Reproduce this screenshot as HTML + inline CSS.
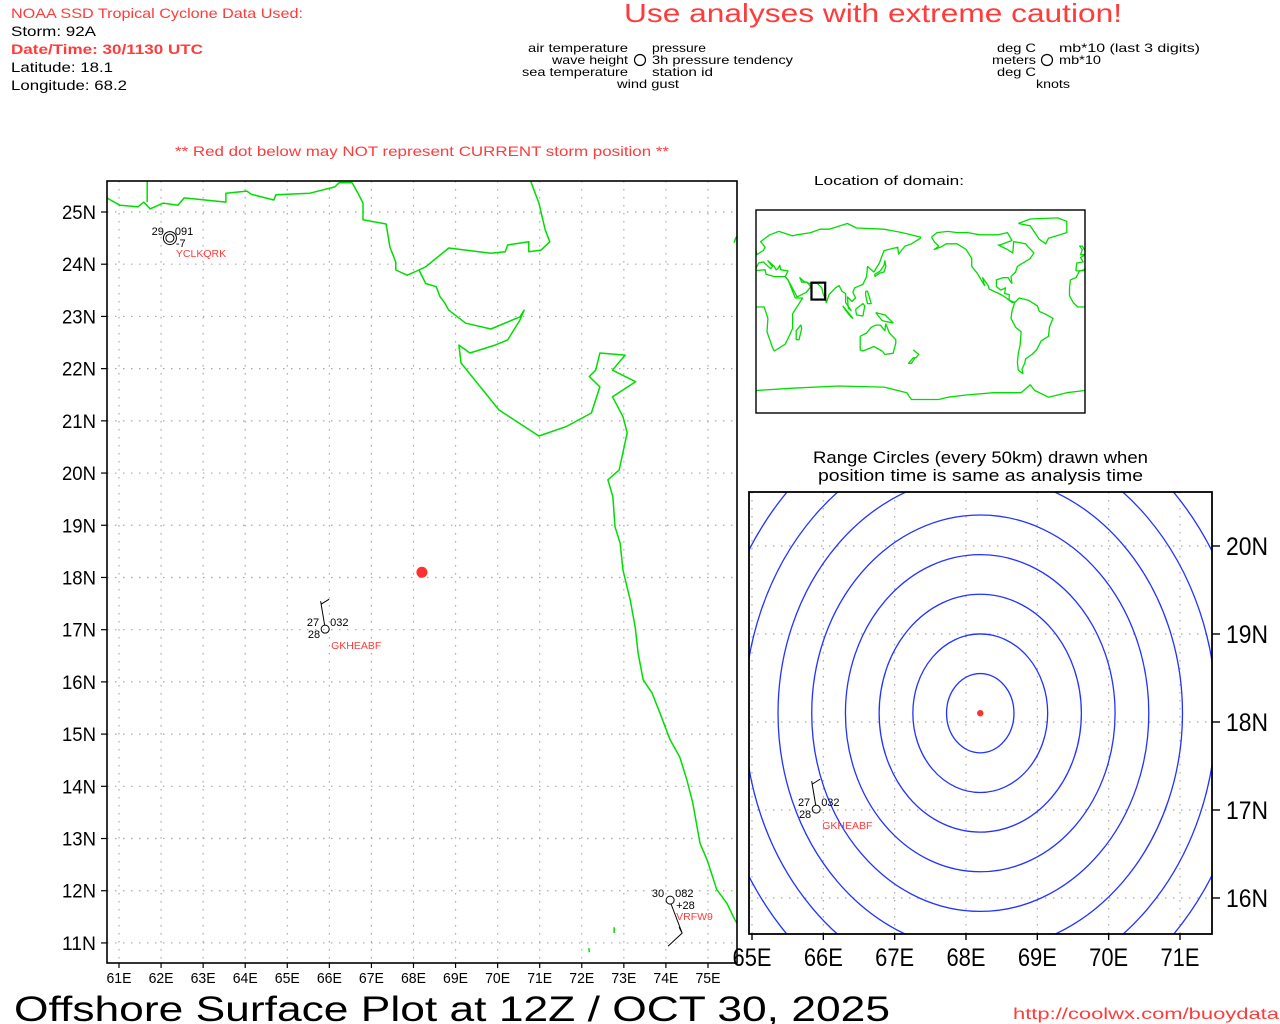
<!DOCTYPE html>
<html><head><meta charset="utf-8"><title>Offshore Surface Plot</title>
<style>
html,body{margin:0;padding:0;background:#fff;width:1280px;height:1024px;overflow:hidden;}
svg{display:block;font-family:"Liberation Sans",sans-serif;}
</style></head>
<body>
<svg id="chart" width="1280" height="1024" viewBox="0 0 1280 1024" xmlns="http://www.w3.org/2000/svg">
<rect x="0" y="0" width="1280" height="1024" fill="#fff"/>
<defs>
<clipPath id="clipMain"><rect x="107" y="181" width="630" height="782"/></clipPath>
<clipPath id="clipRange"><rect x="749" y="492" width="463" height="442"/></clipPath>
<clipPath id="clipInset"><rect x="756" y="210" width="329" height="203"/></clipPath>
</defs>
<g id="header" font-size="14">
<text x="11" y="18" fill="#ff3b3b" textLength="292" lengthAdjust="spacingAndGlyphs">NOAA SSD Tropical Cyclone Data Used:</text>
<text x="11" y="36" fill="#000" textLength="85" lengthAdjust="spacingAndGlyphs">Storm: 92A</text>
<text x="11" y="54" fill="#ff3b3b" font-weight="bold" textLength="192" lengthAdjust="spacingAndGlyphs">Date/Time: 30/1130 UTC</text>
<text x="11" y="72" fill="#000" textLength="102" lengthAdjust="spacingAndGlyphs">Latitude: 18.1</text>
<text x="11" y="90" fill="#000" textLength="116" lengthAdjust="spacingAndGlyphs">Longitude: 68.2</text>
<text x="624" y="22" fill="#ff3b3b" font-size="26" textLength="498" lengthAdjust="spacingAndGlyphs">Use analyses with extreme caution!</text>
<text x="175" y="156" fill="#ff3b3b" textLength="494" lengthAdjust="spacingAndGlyphs">** Red dot below may NOT represent CURRENT storm position **</text>
</g>
<g id="legend" font-size="12" fill="#000">
<text x="628" y="52" text-anchor="end" textLength="100" lengthAdjust="spacingAndGlyphs">air temperature</text>
<text x="628" y="64" text-anchor="end" textLength="76" lengthAdjust="spacingAndGlyphs">wave height</text>
<text x="628" y="76" text-anchor="end" textLength="106" lengthAdjust="spacingAndGlyphs">sea temperature</text>
<text x="617" y="88" textLength="62" lengthAdjust="spacingAndGlyphs">wind gust</text>
<circle cx="640" cy="60" r="5.5" fill="none" stroke="#000" stroke-width="1.2"/>
<text x="652" y="52" textLength="54" lengthAdjust="spacingAndGlyphs">pressure</text>
<text x="652" y="64" textLength="141" lengthAdjust="spacingAndGlyphs">3h pressure tendency</text>
<text x="652" y="76" textLength="61" lengthAdjust="spacingAndGlyphs">station id</text>
<text x="997" y="52" textLength="39" lengthAdjust="spacingAndGlyphs">deg C</text>
<text x="1059" y="52" textLength="141" lengthAdjust="spacingAndGlyphs">mb*10 (last 3 digits)</text>
<text x="992" y="64" textLength="44" lengthAdjust="spacingAndGlyphs">meters</text>
<circle cx="1047" cy="60" r="5.5" fill="none" stroke="#000" stroke-width="1.2"/>
<text x="1059" y="64" textLength="42" lengthAdjust="spacingAndGlyphs">mb*10</text>
<text x="997" y="76" textLength="39" lengthAdjust="spacingAndGlyphs">deg C</text>
<text x="1036" y="88" textLength="34" lengthAdjust="spacingAndGlyphs">knots</text>
</g>
<g id="mainMap"></g>
<g id="inset"></g>
<g id="rangePanel"></g>
<text x="814" y="185" font-size="13" textLength="150" lengthAdjust="spacingAndGlyphs">Location of domain:</text>
<text x="813" y="463" font-size="17" textLength="335" lengthAdjust="spacingAndGlyphs">Range Circles (every 50km) drawn when</text>
<text x="818" y="481" font-size="17" textLength="325" lengthAdjust="spacingAndGlyphs">position time is same as analysis time</text>
<text x="14" y="1021" font-size="35" fill="#000" textLength="876" lengthAdjust="spacingAndGlyphs">Offshore Surface Plot at 12Z / OCT 30, 2025</text>
<text x="1013" y="1019" font-size="16" fill="#ff3b3b" textLength="266" lengthAdjust="spacingAndGlyphs">http://coolwx.com/buoydata</text>
</svg>
<script>
// ---- data ----
const stormLon = 68.2;
const stormLat = 18.1;
const stationIds = ["YCLKQRK","GKHEABF","VRFW9"];
const stationLon = [62.21, 65.9, 74.1];
const stationLat = [24.5, 17.01, 11.82];
const stationAirTemp = ["29","27","30"];
const stationPressure = ["091","032","082"];
const stationTendency = ["-7","","+28"];
const stationSeaTemp = ["","28",""];
const mainLatTicks = [11,12,13,14,15,16,17,18,19,20,21,22,23,24,25];
const mainLonTicks = [61,62,63,64,65,66,67,68,69,70,71,72,73,74,75];
const rangeLatTicks = [16,17,18,19,20];
const rangeLonTicks = [65,66,67,68,69,70,71];
const rangeCircleKm = [50,100,150,200,250,300,350,400,450,500,550,600];
const coastMainLon = [60.71,61.02,61.45,61.59,61.74,62.05,62.40,62.55,63.54,63.54,64.04,64.14,64.68,64.73,65.54,66.13,66.23,66.54,66.68,66.80,66.80,67.35,67.44,67.58,67.58,67.85,68.13,68.29,68.54,68.63,68.74,68.84,69.24,69.84,70.53,70.63,70.53,70.24,69.94,69.34,69.08,69.13,70.03,70.98,71.63,72.23,72.43,72.18,72.33,72.43,73.03,72.73,73.28,72.73,72.98,73.08,72.89,72.62,72.74,72.79,72.91,72.98,73.15,73.27,73.34,73.46,73.67,73.86,74.10,74.33,74.50,74.64,74.81,74.98,75.21,75.45,75.64,75.88];
const coastMainLat = [25.27,25.13,25.10,25.19,25.06,25.17,25.13,25.27,25.19,25.36,25.40,25.34,25.23,25.33,25.36,25.48,25.56,25.56,25.36,25.17,24.85,24.77,24.33,24.04,23.89,23.79,23.89,23.63,23.57,23.38,23.26,23.12,22.87,22.76,22.99,23.12,22.93,22.55,22.45,22.30,22.45,22.11,21.21,20.71,20.89,21.15,21.65,21.85,21.97,22.30,22.26,21.97,21.75,21.46,21.08,20.77,20.06,19.87,19.54,18.97,18.66,18.14,17.57,17.05,16.55,16.04,15.79,15.40,14.89,14.56,14.12,13.68,12.91,12.59,12.02,11.76,11.44,11.15];
const coastKutchLon = [68.13,68.29,68.84,69.84,70.18,70.24,70.74,70.74,71.03,71.24,71.13,70.98,70.79];
const coastKutchLat = [23.89,23.95,24.31,24.21,24.24,24.37,24.43,24.24,24.27,24.43,24.66,25.17,25.58];
const coastRiverLon = [61.67,61.67];
const coastRiverLat = [25.62,25.19];
const islandLon = [75.62,75.66,75.78,75.80];
const islandLat = [24.41,24.50,24.62,24.70];
const dashALon = [72.77,72.77]; const dashALat = [11.30,11.19];
const dashBLon = [72.17,72.18]; const dashBLat = [10.90,10.82];
const worldShapes = {
africa:[[-17,21],[-16,28],[-10,30],[-6,36],[10,37],[11,33],[20,31],[32,31],[35,28],[43,12],[51,12],[40,-2],[40,-15],[35,-24],[32,-29],[20,-35],[18,-32],[12,-18],[13,-6],[9,4],[-8,4],[-13,8],[-17,14],[-17,21]],
eurasia:[[-10,36],[-9,43],[-2,44],[-5,48],[2,51],[8,54],[10,57],[5,62],[15,68],[25,71],[40,67],[45,68],[60,70],[70,73],[80,73],[100,78],[110,74],[140,73],[160,70],[180,66],[180,65],[170,60],[163,58],[156,51],[155,57],[140,54],[135,43],[129,35],[126,37],[122,40],[121,31],[117,24],[108,21],[106,17],[109,12],[105,9],[100,13],[101,3],[104,1],[98,8],[98,16],[94,18],[91,23],[87,21],[80,15],[77,8],[73,17],[72,21],[67,25],[57,25],[52,27],[48,30],[50,26],[56,26],[60,22],[55,17],[45,13],[43,16],[35,28],[32,31],[35,36],[27,37],[26,41],[24,38],[22,37],[20,40],[13,45],[18,40],[16,38],[8,44],[3,43],[-1,37],[-6,36],[-10,36]],
australia:[[114,-22],[114,-34],[117,-35],[129,-31],[138,-35],[141,-38],[150,-37],[153,-28],[153,-25],[146,-19],[142,-11],[141,-17],[136,-12],[131,-12],[126,-14],[121,-19],[114,-22]],
namerica:[[-168,66],[-162,70],[-150,71],[-140,70],[-128,70],[-115,68],[-95,68],[-85,70],[-80,63],[-93,59],[-95,59],[-85,55],[-79,52],[-78,62],[-65,60],[-62,57],[-56,52],[-60,47],[-66,44],[-70,42],[-74,40],[-76,35],[-81,31],[-80,25],[-82,27],[-84,30],[-90,30],[-97,28],[-97,22],[-92,19],[-87,21],[-88,16],[-83,15],[-83,10],[-77,8],[-80,8],[-86,12],[-92,15],[-105,20],[-106,23],[-112,30],[-110,23],[-115,30],[-118,34],[-124,40],[-124,47],[-130,55],[-140,60],[-152,60],[-158,57],[-165,55],[-160,58],[-165,62],[-168,66]],
samerica:[[-77,8],[-72,12],[-62,10],[-52,5],[-50,0],[-44,-2],[-35,-6],[-39,-14],[-40,-22],[-48,-26],[-53,-34],[-58,-38],[-65,-42],[-66,-46],[-69,-51],[-68,-55],[-73,-52],[-74,-45],[-73,-37],[-71,-30],[-70,-18],[-76,-14],[-81,-6],[-80,0],[-77,8]],
greenland:[[-73,78],[-60,82],[-30,83],[-20,80],[-20,70],[-40,65],[-43,60],[-50,64],[-55,70],[-60,76],[-73,78]],
antarctica:[[0,-70],[40,-68],[90,-66],[140,-67],[165,-72],[170,-78],[200,-78],[210,-76],[230,-74],[260,-72],[290,-72],[300,-65],[305,-70],[320,-76],[340,-72],[360,-70]],
uk:[[-5,50],[1,51],[0,54],[-3,58],[-6,58],[-3,55],[-5,50]],
japan:[[130,31],[135,34],[140,35],[142,40],[141,45],[140,41],[136,36],[130,33],[130,31]],
madagascar:[[44,-25],[47,-25],[50,-15],[49,-12],[44,-17],[44,-25]],
newzealand:[[172,-34],[178,-38],[175,-41],[172,-41],[167,-46],[170,-46],[174,-41]],
borneo:[[109,2],[117,7],[119,5],[117,-4],[110,-3],[109,2]],
sumatra:[[95,5],[106,-6],[104,-5],[98,1],[95,5]],
newguinea:[[131,-1],[141,-3],[150,-10],[143,-9],[138,-8],[131,-1]],
philippines:[[120,18],[122,18],[124,13],[126,7],[122,7],[120,14],[120,18]]
};
const domainLon = [60.7, 75.7];
const domainLat = [10.6, 25.6];

// ---- helpers / projections ----
const NS = "http://www.w3.org/2000/svg";
function mk(tag, attrs, parent){const e=document.createElementNS(NS,tag);for(const k in attrs)e.setAttribute(k,attrs[k]);parent.appendChild(e);return e;}
const MX = lon => 119 + (lon-61)*42.07;
const MY = lat => 212 + (25-lat)*52.21;
const RX = lon => 752 + (lon-65)*71.33;
const RY = lat => 722 + (18-lat)*88;
const IX = lon => 756 + lon*0.914;
const IY = lat => 210 + (90-lat)*1.128;
function polyPts(lons,lats,fx,fy){return lons.map((l,i)=>fx(l).toFixed(1)+","+fy(lats[i]).toFixed(1)).join(" ");}

// ---- main map ----
const mm = document.getElementById("mainMap");
const mgrid = mk("g",{"clip-path":"url(#clipMain)"},mm);


mainLatTicks.forEach(t=>{const l=mk("line",{x1:107,x2:737,y1:MY(t),y2:MY(t),stroke:"#aaa","stroke-width":1.2,"stroke-dasharray":"1.5,6.5"},mgrid);

});
mainLonTicks.forEach(t=>{const l=mk("line",{x1:MX(t),x2:MX(t),y1:181,y2:963,stroke:"#aaa","stroke-width":1.2,"stroke-dasharray":"1.5,6.5"},mgrid);

});
const mcoast = mk("g",{"clip-path":"url(#clipMain)",fill:"none",stroke:"#00dd00","stroke-width":1.5,"stroke-linejoin":"round"},mm);


[[coastMainLon,coastMainLat],[coastKutchLon,coastKutchLat],[coastRiverLon,coastRiverLat],[islandLon,islandLat],[dashALon,dashALat],[dashBLon,dashBLat]].forEach(p=>{
 const pl=mk("polyline",{points:polyPts(p[0],p[1],MX,MY)},mcoast);
 
 
});
const mframe = mk("rect",{x:107,y:181,width:630,height:782,fill:"none",stroke:"#000","stroke-width":1.6},mm);


mainLatTicks.forEach(t=>{
 const tk=mk("line",{x1:101,x2:107,y1:MY(t),y2:MY(t),stroke:"#000","stroke-width":1.2},mm);
 
 
 const tx=mk("text",{x:96,y:MY(t)+7,"text-anchor":"end","font-size":19,fill:"#000",textLength:34,lengthAdjust:"spacingAndGlyphs"},mm);
 tx.textContent=t+"N";
 
 
});
mainLonTicks.forEach(t=>{
 const tk=mk("line",{x1:MX(t),x2:MX(t),y1:963,y2:968,stroke:"#000","stroke-width":1.2},mm);
 
 
 const tx=mk("text",{x:MX(t),y:983,"text-anchor":"middle","font-size":15,fill:"#000",textLength:25,lengthAdjust:"spacingAndGlyphs"},mm);
 tx.textContent=t+"E";
 
 
});

function drawStation(parent,i,fx,fy,showBarb){
 const x=fx(stationLon[i]), y=fy(stationLat[i]);
 const g=mk("g",{},parent);
 
 
 const c=mk("circle",{cx:x,cy:y,r:4,fill:"none",stroke:"#000","stroke-width":1},g);
 
 
 if(i===0){const c2=mk("circle",{cx:x,cy:y,r:6.5,fill:"none",stroke:"#000","stroke-width":1},g);
  
  }
 const fs=11;
 const t1=mk("text",{x:x-6,y:y-3,"text-anchor":"end","font-size":fs,fill:"#000"},g);t1.textContent=stationAirTemp[i];
 
 
 const t2=mk("text",{x:x+5,y:y-3,"font-size":fs,fill:"#000"},g);t2.textContent=stationPressure[i];
 
 
 if(stationTendency[i]){const t3=mk("text",{x:x+6,y:y+9,"font-size":fs,fill:"#000"},g);t3.textContent=stationTendency[i];
  
  }
 if(stationSeaTemp[i]){const t4=mk("text",{x:x-5,y:y+9,"text-anchor":"end","font-size":fs,fill:"#000"},g);t4.textContent=stationSeaTemp[i];
  
  }
 const t5=mk("text",{x:x+6,y:y+(i===0?19:20),"font-size":10.5,fill:"#ff3b3b"},g);t5.textContent=stationIds[i];
 
 
 if(showBarb){
  let d;
  if(i===1) d=`M${x-0.5},${y-4} L${x-4.5},${y-28} M${x-4},${y-25} L${x+4},${y-30}`;
  else if(i===2) d=`M${x+1},${y+4} L${x+12},${y+33} L${x-2},${y+46} M${x+12},${y+33} L${x+9},${y+27}`;
  if(d){const b=mk("path",{d:d,fill:"none",stroke:"#000","stroke-width":1},g);
   
   }
 }
}
const mst=mk("g",{"clip-path":"url(#clipMain)"},mm);


stationIds.forEach((s,i)=>drawStation(mst,i,MX,MY,true));
const sdot=mk("circle",{cx:MX(stormLon),cy:MY(stormLat),r:5.5,fill:"#ff3030"},mm);



// ---- inset ----
const ins=document.getElementById("inset");
const ig=mk("g",{"clip-path":"url(#clipInset)",fill:"none",stroke:"#00dd00","stroke-width":1.3,"stroke-linejoin":"round"},ins);


Object.keys(worldShapes).forEach(k=>{
 [0,360].forEach(off=>{
  const pts=worldShapes[k].map(p=>IX(p[0]+off).toFixed(1)+","+IY(p[1]).toFixed(1)).join(" ");
  const pl=mk("polyline",{points:pts},ig);
  
  
 });
});
const iframe=mk("rect",{x:756,y:210,width:329,height:203,fill:"none",stroke:"#000","stroke-width":1.4},ins);


const dbox=mk("rect",{x:IX(domainLon[0]),y:IY(domainLat[1]),width:IX(domainLon[1])-IX(domainLon[0]),height:IY(domainLat[0])-IY(domainLat[1]),fill:"none",stroke:"#000","stroke-width":2.2},ins);



// ---- range panel ----
const rp=document.getElementById("rangePanel");
const rg=mk("g",{"clip-path":"url(#clipRange)"},rp);


rangeLatTicks.forEach(t=>{const l=mk("line",{x1:749,x2:1212,y1:RY(t),y2:RY(t),stroke:"#aaa","stroke-width":1.2,"stroke-dasharray":"1.5,6.5"},rg);
 
 });
rangeLonTicks.forEach(t=>{const l=mk("line",{x1:RX(t),x2:RX(t),y1:492,y2:934,stroke:"#aaa","stroke-width":1.2,"stroke-dasharray":"1.5,6.5"},rg);
 
 });
const rc=mk("g",{"clip-path":"url(#clipRange)",fill:"none",stroke:"#2233ff","stroke-width":1.3},rp);


const cx0=RX(stormLon), cy0=RY(stormLat);
rangeCircleKm.forEach(km=>{
 const rx=km/(111.32*Math.cos(stormLat*Math.PI/180))*71.33;
 const ry=km/111.0*88;
 const e=mk("ellipse",{cx:cx0,cy:cy0,rx:rx,ry:ry},rc);
 
 
});
const rst=mk("g",{"clip-path":"url(#clipRange)"},rp);


stationIds.forEach((s,i)=>{ if(stationLon[i]>=64.8 && stationLon[i]<=71.5 && stationLat[i]>=15.5 && stationLat[i]<=20.6) drawStation(rst,i,RX,RY,true); });
const rdot=mk("circle",{cx:cx0,cy:cy0,r:3.2,fill:"#ff3030"},rp);


const rframe=mk("rect",{x:749,y:492,width:463,height:442,fill:"none",stroke:"#000","stroke-width":1.8},rp);


rangeLatTicks.forEach(t=>{
 const tk=mk("line",{x1:1212,x2:1220,y1:RY(t),y2:RY(t),stroke:"#000","stroke-width":1.4},rp);
 
 
 const tx=mk("text",{x:1226,y:RY(t)+9,"font-size":25,fill:"#000",textLength:42,lengthAdjust:"spacingAndGlyphs"},rp);
 tx.textContent=t+"N";
 
 
});
rangeLonTicks.forEach(t=>{
 const tk=mk("line",{x1:RX(t),x2:RX(t),y1:934,y2:940,stroke:"#000","stroke-width":1.4},rp);
 
 
 const tx=mk("text",{x:RX(t),y:966,"text-anchor":"middle","font-size":25,fill:"#000",textLength:39,lengthAdjust:"spacingAndGlyphs"},rp);
 tx.textContent=t+"E";
 
 
});
</script>
</body></html>
